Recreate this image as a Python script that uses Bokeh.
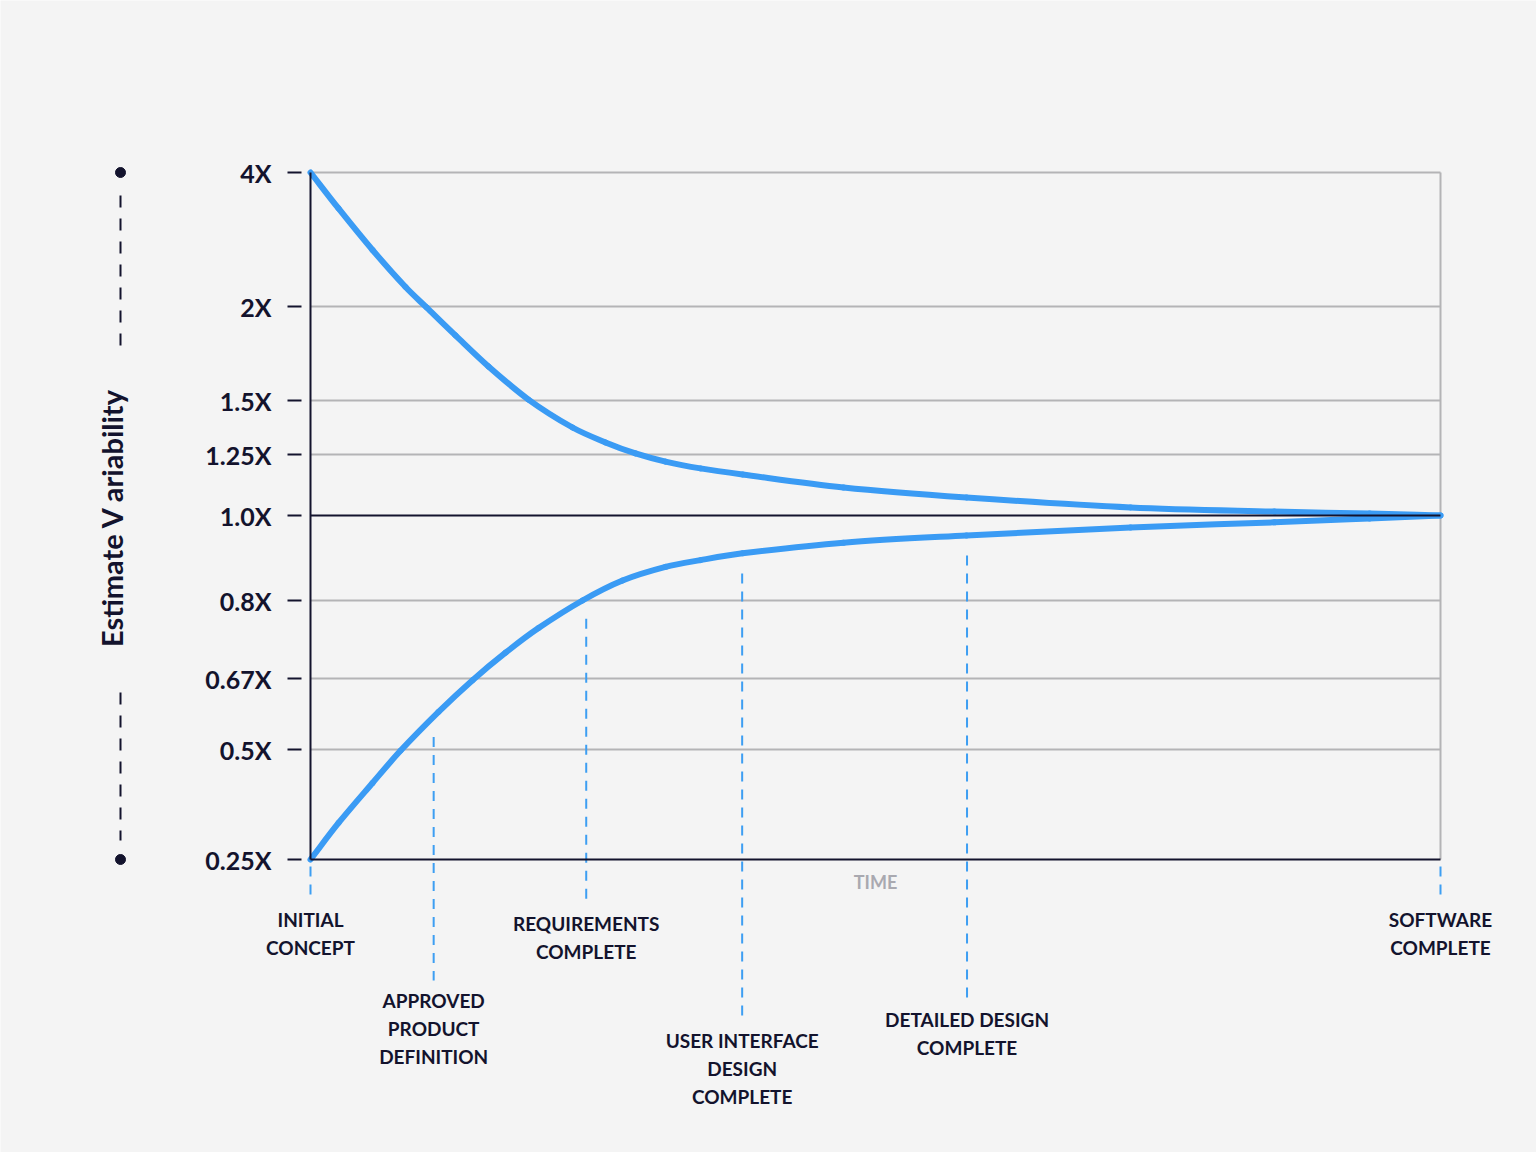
# Cone of uncertainty - Bokeh
import numpy as np
from bokeh.plotting import figure
from bokeh.models import Range1d
from bokeh.core.properties import value
from bokeh.embed import file_html
from bokeh.resources import INLINE

# ---- data ----
tick_labels = ["4X", "2X", "1.5X", "1.25X", "1.0X", "0.8X", "0.67X", "0.5X", "0.25X"]
tick_values = [4.0, 2.0, 1.5, 1.25, 1.0, 0.8, 0.67, 0.5, 0.25]

# time in % of project, estimate multiplier
upper_time = [0, 2.48, 5.49, 8.41, 10.27, 12.83, 15.75, 19.29, 23.19, 26.11, 28.76,
              31.42, 34.51, 38.23, 47.17, 58.05, 72.57, 85.31, 93.72, 100]
upper_est = [4.0, 3.463, 2.843, 2.291, 1.995, 1.846, 1.681, 1.505, 1.375, 1.306, 1.255,
             1.221, 1.193, 1.168, 1.115, 1.074, 1.033, 1.016, 1.008, 1.0]
lower_time = [0, 2.48, 5.49, 7.96, 11.33, 14.34, 17.26, 20.18, 24.07, 27.61,
              31.42, 34.51, 38.23, 47.17, 58.05, 72.57, 85.31, 93.72, 100]
lower_est = [0.25, 0.333, 0.424, 0.497, 0.590, 0.666, 0.713, 0.754, 0.8, 0.847,
             0.879, 0.895, 0.911, 0.936, 0.953, 0.972, 0.984, 0.993, 1.0]

milestone_names = [["INITIAL", "CONCEPT"],
                   ["APPROVED", "PRODUCT", "DEFINITION"],
                   ["REQUIREMENTS", "COMPLETE"],
                   ["USER INTERFACE", "DESIGN", "COMPLETE"],
                   ["DETAILED DESIGN", "COMPLETE"],
                   ["SOFTWARE", "COMPLETE"]]
milestone_time = [0, 10.9, 24.4, 38.2, 58.1, 100]

# ---- layout (pixels) ----
W, H = 1536, 1152
PLOT_LEFT, PLOT_W = 310, 1130      # plot area in page px
ONE_Y = 515                         # page px of the 1.0x line
tick_pos = [343, 209, 115, 61, 0, -85, -163, -234, -344]   # px above 1.0x line
label_top = [919, 1000, 923, 1040, 1019, 919]               # first label line (page px)
DX = 100.0 / PLOT_W

NAVY = "#13132d"
GRID = "#b4b4b6"
BLUE = "#3a9bf4"
BG = "#f4f4f4"
FONT = value("Lato")


def px_x(px):
    return (px - PLOT_LEFT) * DX


def px_y(px):
    return ONE_Y - px


asc_v = tick_values[::-1]
asc_p = tick_pos[::-1]


def yscale(m):
    return np.interp(m, asc_v, asc_p)


# draw a smooth curve through the read points (cubic Hermite segments as Beziers)
def smooth_curve(p, xs, ys, **kw):
    x = np.asarray(xs, float)
    y = np.asarray(ys, float)
    m = np.empty_like(y)
    m[1:-1] = (y[2:] - y[:-2]) / (x[2:] - x[:-2])
    m[0] = (y[1] - y[0]) / (x[1] - x[0])
    m[-1] = (y[-1] - y[-2]) / (x[-1] - x[-2])
    h = np.diff(x) / 3
    p.bezier(x0=x[:-1], y0=y[:-1], x1=x[1:], y1=y[1:],
             cx0=x[:-1] + h, cy0=y[:-1] + m[:-1] * h,
             cx1=x[1:] - h, cy1=y[1:] - m[1:] * h, **kw)


p = figure(width=W, height=H, output_backend="svg", toolbar_location=None, tools="",
           x_range=Range1d(px_x(0), px_x(W)), y_range=Range1d(px_y(H), px_y(0)),
           x_axis_type=None, y_axis_type=None, min_border=0)
p.background_fill_color = BG
p.border_fill_color = BG
p.outline_line_color = None

# grid lines
for v in tick_values:
    if v in (1.0, 0.25):
        continue
    y = yscale(v)
    p.segment(x0=0, y0=y, x1=100, y1=y, line_color=GRID, line_width=2)

# right border
p.segment(x0=100, y0=yscale(0.25), x1=100, y1=yscale(4.0), line_color=GRID, line_width=2)

# tick marks + labels
ty = [float(yscale(v)) for v in tick_values]
p.segment(x0=[px_x(287)] * len(ty), y0=ty, x1=[px_x(301)] * len(ty), y1=ty,
          line_color=NAVY, line_width=2)
p.text(x=[px_x(271)] * len(ty), y=ty, text=tick_labels, text_align="right",
       text_baseline="middle", text_font=FONT, text_font_style="bold",
       text_font_size="25px", text_color=NAVY)

# milestone dashed lines
for t, lines, top in zip(milestone_time, milestone_names, label_top):
    if 0 < t < 100:
        y0 = float(np.interp(t, lower_time, yscale(lower_est))) - 20
    else:
        y0 = yscale(0.25) - 7
    y1 = px_y(top - 20)
    p.segment(x0=t, y0=y0, x1=t, y1=y1, line_color="#3d9ef2", line_width=2, line_dash="10 8")
    ys = [px_y(top + 28 * i) for i in range(len(lines))]
    p.text(x=[t] * len(lines), y=ys, text=lines, text_align="center", text_baseline="middle",
           text_font=FONT, text_font_style="bold", text_font_size="19px", text_color=NAVY)

# curves
smooth_curve(p, upper_time, yscale(upper_est), line_color=BLUE, line_width=6, line_cap="round")
smooth_curve(p, lower_time, yscale(lower_est), line_color=BLUE, line_width=6, line_cap="round")

# axis lines on top
p.segment(x0=0, y0=yscale(1.0), x1=100, y1=yscale(1.0), line_color=NAVY, line_width=2)
p.segment(x0=0, y0=yscale(0.25), x1=100, y1=yscale(0.25), line_color=NAVY, line_width=2)
p.segment(x0=0, y0=yscale(0.25), x1=0, y1=yscale(4.0), line_color=NAVY, line_width=2)

# TIME
p.text(x=[50], y=[px_y(881)], text=["TIME"], text_align="center", text_baseline="middle",
       text_font=FONT, text_font_style="bold", text_font_size="18px", text_color="#a9a9b0")

# left label with dashed bracket
p.text(x=[px_x(111)], y=[px_y(517)], text=["Estimate V ariability"], angle=np.pi / 2,
       text_align="center", text_baseline="middle", text_font=FONT, text_font_style="bold",
       text_font_size="29px", text_color=NAVY)
bx = px_x(120)
p.segment(x0=[bx, bx], y0=[px_y(195), px_y(692)], x1=[bx, bx], y1=[px_y(345), px_y(840)],
          line_color=NAVY, line_width=2, line_dash="12 11")
p.scatter(x=[bx, bx], y=[yscale(4.0), yscale(0.25)], size=10, color=NAVY)

html = file_html(p, INLINE, "Cone of Uncertainty")
html = html.replace("<body>", '<body style="background:%s">' % BG, 1)
open("out.html", "w").write(html)
